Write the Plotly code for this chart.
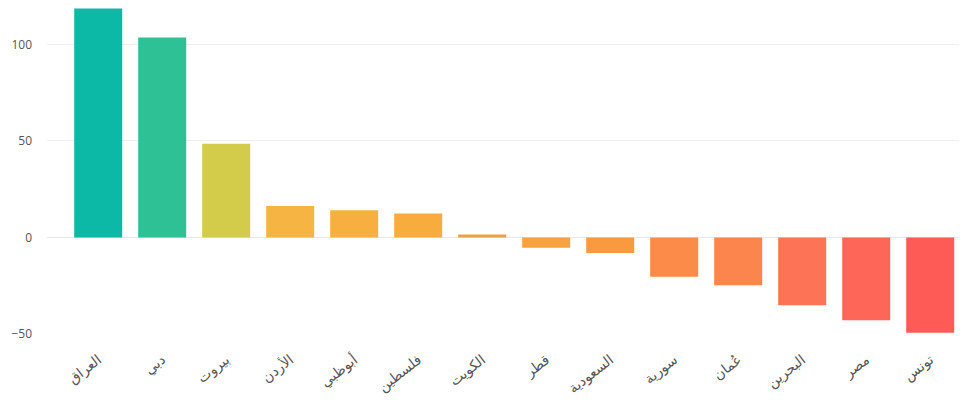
import plotly.graph_objects as go

categories = ["العراق", "دبي", "بيروت", "الأردن", "أبوظبي", "فلسطين", "الكويت",
              "قطر", "السعودية", "سورية", "عُمان", "البحرين", "مصر", "تونس"]
values = [118.5, 103.5, 48.6, 16.4, 14.2, 12.5, 1.6,
          -5.2, -8.0, -20.2, -24.6, -35.0, -42.8, -49.2]

bar_colors = ["#0cb9a6", "#2ec195", "#d3cc4b", "#f6b443", "#f7b040", "#f8ac3e", "#e9a242",
              "#f8a13f", "#fa9a3f", "#fc8a48", "#fc844d", "#fd7356", "#fe6758", "#fe5b57"]

fig = go.Figure(go.Bar(
    x=categories, y=values,
    marker=dict(color=bar_colors, line=dict(width=0)),
    hoverinfo="x+y",
))

# page body has an 8px margin, so the figure is made 8px smaller and shifted
fig.update_layout(
    width=959, height=392,
    margin=dict(l=39, r=0, t=0, b=65, autoexpand=False),
    paper_bgcolor="white", plot_bgcolor="white",
    bargap=0.25,
    showlegend=False,
    font=dict(family="Open Sans, DejaVu Sans, sans-serif", size=12, color="#555"),
    xaxis=dict(
        range=[-0.8, 13.575],
        tickangle=-38,
        automargin=False,
        showgrid=False, zeroline=False, showline=False,
        ticks="", ticklabelstandoff=13,
        tickfont=dict(family="DejaVu Sans, sans-serif", size=14, color="#555"),
    ),
    yaxis=dict(
        range=[-50.4, 118.8],
        tickvals=[-50, 0, 50, 100],
        automargin=False,
        showgrid=True, gridcolor="#efefef", gridwidth=1,
        zeroline=True, zerolinecolor="#e8e8e8", zerolinewidth=1,
        showline=False, ticks="", ticklabelstandoff=14,
        tickfont=dict(size=12, color="#555"),
    ),
)

fig.write_html("out.html")
